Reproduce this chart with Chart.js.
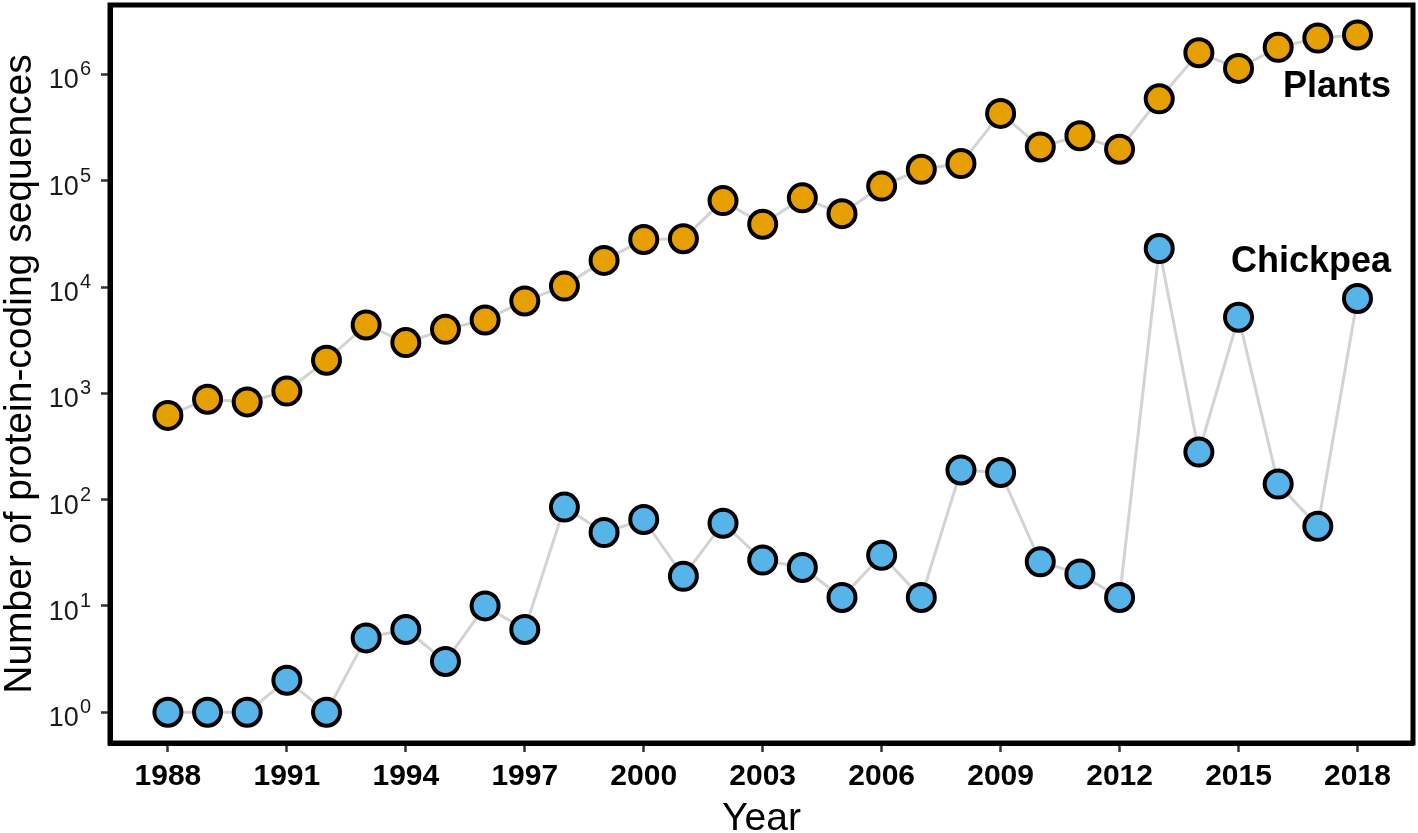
<!DOCTYPE html>
<html><head><meta charset="utf-8">
<script src="https://cdn.jsdelivr.net/npm/chart.js@4/dist/chart.umd.min.js"></script>
<style>html,body{margin:0;padding:0;background:#fff}#wrap{width:1418px;height:833px}</style>
</head><body><div id="wrap"><canvas id="c" width="1418" height="833"></canvas></div>
<script>
const years = [1988,1989,1990,1991,1992,1993,1994,1995,1996,1997,1998,1999,2000,2001,2002,2003,2004,2005,2006,2007,2008,2009,2010,2011,2012,2013,2014,2015,2016,2017,2018];
const plants = [620,880,830,1050,2050,4400,3000,4000,4900,7400,10200,17800,28000,28500,65000,39000,69000,49000,89000,128000,145000,430000,208000,265000,198000,590000,1600000,1140000,1800000,2200000,2350000];
const chickpea = [1,1,1,2,1,5,6,3,10,6,85,49,65,19,60,27,23,12,30,12,190,180,26,20,12,23000,280,5200,140,56,7800];
const xTicks = [1988,1991,1994,1997,2000,2003,2006,2009,2012,2015,2018];
const yTicks = [1,10,100,1000,10000,100000,1000000];
const yTickExponents = ['0','1','2','3','4','5','6'];
const seriesLabels = ['Plants','Chickpea'];
const FONT = '"Liberation Sans", Arial, Helvetica, sans-serif';

const boxPlugin = {
  id:'box',
  afterDatasetsDraw(chart){
    const {ctx, chartArea:a} = chart;
    ctx.save();
    ctx.strokeStyle='#000'; ctx.lineWidth=5;
    ctx.strokeRect(a.left, a.top, a.right-a.left, a.bottom-a.top);
    ctx.restore();
  },
  afterDraw(chart){
    const {ctx, chartArea:a} = chart;
    const ys = chart.scales.y;
    ctx.save();
    ctx.fillStyle='#1a1a1a';
    ctx.textBaseline='alphabetic';
    yTicks.forEach((v,i)=>{
      const py = ys.getPixelForValue(v);
      ctx.font = '20px ' + FONT;
      ctx.textAlign='right';
      const ex = yTickExponents[i];
      const exW = ctx.measureText(ex).width;
      ctx.fillText(ex, 91, py+1);
      ctx.font = '27px ' + FONT;
      ctx.fillText('10', 91 - exW - 1, py+14);
    });
    ctx.fillStyle='#000';
    ctx.font='bold 36px ' + FONT;
    ctx.textAlign='right'; ctx.textBaseline='middle';
    ctx.fillText(seriesLabels[0], 1391, 87);
    ctx.fillText(seriesLabels[1], 1391, 262);
    ctx.restore();
  }
};

new Chart(document.getElementById('c'), {
  type:'line',
  data:{
    datasets:[
      {label:seriesLabels[0], data:years.map((y,i)=>({x:y,y:plants[i]})), borderColor:'#d3d3d3', borderWidth:3,
       pointRadius:13.5, pointBorderWidth:4, pointBackgroundColor:'#E69F00', pointBorderColor:'#000', clip:false},
      {label:seriesLabels[1], data:years.map((y,i)=>({x:y,y:chickpea[i]})), borderColor:'#d3d3d3', borderWidth:3,
       pointRadius:13.5, pointBorderWidth:4, pointBackgroundColor:'#56B4E9', pointBorderColor:'#000', clip:false}
    ]
  },
  options:{
    responsive:false, animation:false,
    layout:{autoPadding:false, padding:{left:0, top:5, right:5, bottom:0}},
    plugins:{legend:{display:false}, tooltip:{enabled:false}},
    scales:{
      x:{type:'linear', min:1986.54, max:2019.4,
        afterBuildTicks(s){ s.ticks = xTicks.map(v=>({value:v})); },
        afterFit(s){ s.height = 90; s.paddingLeft = 0; s.paddingRight = 0; },
        grid:{display:true, drawOnChartArea:false, drawTicks:true, tickLength:9, tickWidth:2.5, tickColor:'#333'},
        border:{display:true, color:'#000', width:5},
        ticks:{color:'#000', font:{family:FONT, size:30, weight:'bold'}, padding:7, maxRotation:0, autoSkip:false,
          callback:v=>String(v)},
        title:{display:true, text:'Year', color:'#000', font:{family:FONT, size:39, lineHeight:1.0}, padding:{top:-6,bottom:-6}}
      },
      y:{type:'logarithmic', min:0.513, max:4.5e6,
        afterBuildTicks(s){ s.ticks = yTicks.map(v=>({value:v})); },
        afterFit(s){ s.width = 110; s.paddingTop = 0; s.paddingBottom = 0; },
        grid:{display:true, drawOnChartArea:false, drawTicks:true, tickLength:9, tickWidth:2.5, tickColor:'#333'},
        border:{display:true, color:'#000', width:5},
        ticks:{display:false},
        title:{display:true, text:'Number of protein-coding sequences', color:'#000', font:{family:FONT, size:39, lineHeight:1.0}, padding:{top:1,bottom:0}}
      }
    }
  },
  plugins:[boxPlugin]
});
</script></body></html>
